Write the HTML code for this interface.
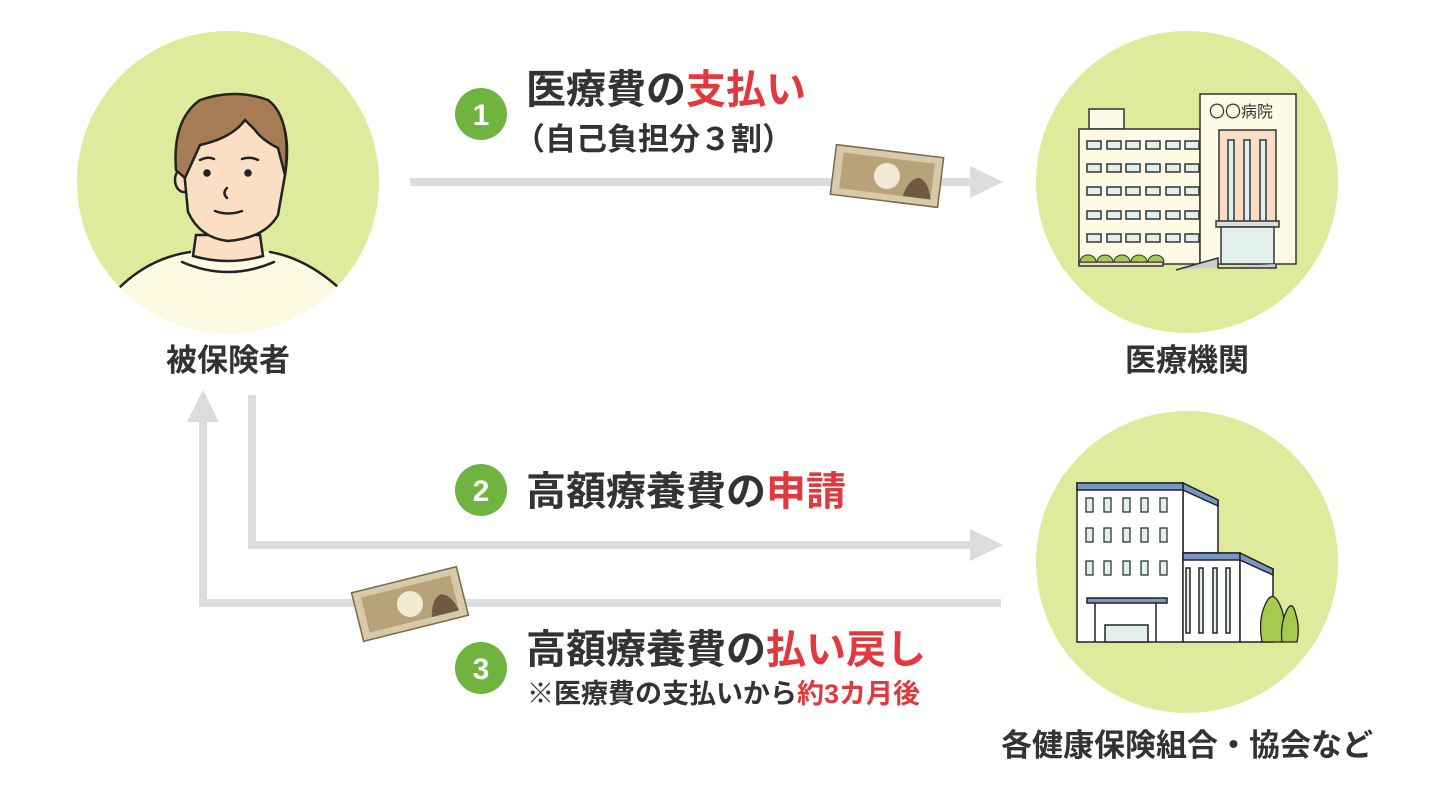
<!DOCTYPE html>
<html><head><meta charset="utf-8"><style>
html,body{margin:0;padding:0;background:#fff;}
svg{display:block;}
text{font-family:"Liberation Sans","Noto Sans CJK JP",sans-serif;font-weight:bold;}
</style></head><body>
<svg width="1456" height="800" viewBox="0 0 1456 800" xmlns="http://www.w3.org/2000/svg">
<circle cx="228" cy="182" r="151" fill="#dfeb9c"/>
<circle cx="1187" cy="182" r="151" fill="#dfeb9c"/>
<circle cx="1187" cy="562" r="151" fill="#dfeb9c"/>

<!-- person -->
<clipPath id="pc"><circle cx="228" cy="182" r="151"/></clipPath>
<g clip-path="url(#pc)" stroke="#222" stroke-width="2.5" stroke-linecap="round" fill="none">
  <path d="M120 287 Q150 258 195 250 L260 250 Q305 258 338 287 L338 340 L120 340Z" fill="#fcfae2" stroke="none"/>
  <path d="M120 287 Q150 258 190 252 M270 252 Q305 258 338 287"/>
  <path d="M196 235 L193 256 Q228 266 263 256 L260 235Z" fill="#fadfc5"/>
  <path d="M182 262 Q228 282 274 262"/>
  <ellipse cx="184" cy="180" rx="9" ry="12" fill="#fadfc5"/>
  <ellipse cx="275" cy="180" rx="9" ry="12" fill="#fadfc5"/>
  <path d="M183 160 Q180 125 205 100 Q245 85 275 110 Q292 130 285 175 L278 215 Q265 238 228 241 Q200 238 188 212 Z" fill="#fadfc5"/>
  <path d="M176 170 Q172 120 200 100 Q235 88 268 100 Q292 118 285 175 L278 148 Q262 140 255 130 L245 120 Q232 138 200 145 L185 178 Z" fill="#a67c55"/>
  <circle cx="207" cy="173" r="2.5" fill="#222"/>
  <circle cx="248" cy="173" r="2.5" fill="#222"/>
  <path d="M200 160 Q208 156 214 159 M242 159 Q250 156 258 160"/>
  <path d="M227 188 Q222 193 227 198"/>
  <path d="M215 211 Q228 216 242 211"/>
</g>

<!-- hospital -->
<g stroke="#333" stroke-width="1.5">
  <rect x="1089" y="109" width="35" height="20" fill="#fdfbe6"/>
  <rect x="1079" y="129" width="121" height="135" fill="#fdfbe6"/>
  <rect x="1200" y="94" width="96" height="170" fill="#fdfbe6"/>
  <rect x="1219" y="130" width="57" height="95" fill="#f8dcc5"/>
  <rect x="1228" y="140" width="6" height="85" fill="#e1f0ec"/>
  <rect x="1244" y="140" width="6" height="85" fill="#e1f0ec"/>
  <rect x="1260" y="140" width="6" height="85" fill="#e1f0ec"/>
  <rect x="1216" y="221" width="63" height="6" fill="#ddd"/>
  <rect x="1221" y="227" width="53" height="37" fill="#e1f0ec"/>
  <path d="M1176 270 L1218 258 L1218 268 L1276 268 L1276 264" fill="#ccc"/>
  <rect x="1079" y="262" width="84" height="4" fill="#f4d9b8"/>
</g>
<g fill="#e1f0ec" stroke="#333" stroke-width="1.5">
  <rect x="1087" y="141" width="14" height="8"/><rect x="1107" y="141" width="14" height="8"/><rect x="1126" y="141" width="14" height="8"/><rect x="1146" y="141" width="14" height="8"/><rect x="1166" y="141" width="14" height="8"/><rect x="1185" y="141" width="14" height="8"/>
  <rect x="1087" y="164" width="14" height="8"/><rect x="1107" y="164" width="14" height="8"/><rect x="1126" y="164" width="14" height="8"/><rect x="1146" y="164" width="14" height="8"/><rect x="1166" y="164" width="14" height="8"/><rect x="1185" y="164" width="14" height="8"/>
  <rect x="1087" y="187" width="14" height="8"/><rect x="1107" y="187" width="14" height="8"/><rect x="1126" y="187" width="14" height="8"/><rect x="1146" y="187" width="14" height="8"/><rect x="1166" y="187" width="14" height="8"/><rect x="1185" y="187" width="14" height="8"/>
  <rect x="1087" y="211" width="14" height="8"/><rect x="1107" y="211" width="14" height="8"/><rect x="1126" y="211" width="14" height="8"/><rect x="1146" y="211" width="14" height="8"/><rect x="1166" y="211" width="14" height="8"/><rect x="1185" y="211" width="14" height="8"/>
  <rect x="1087" y="234" width="14" height="8"/><rect x="1107" y="234" width="14" height="8"/><rect x="1126" y="234" width="14" height="8"/><rect x="1146" y="234" width="14" height="8"/><rect x="1166" y="234" width="14" height="8"/><rect x="1185" y="234" width="14" height="8"/>
</g>
<g fill="#a6c94e" stroke="#333" stroke-width="1"><path d="M1080 262 a8 7 0 0 1 16 0Z"/><path d="M1097 262 a8 7 0 0 1 16 0Z"/><path d="M1114 262 a8 7 0 0 1 16 0Z"/><path d="M1131 262 a8 7 0 0 1 16 0Z"/><path d="M1148 262 a8 7 0 0 1 16 0Z"/></g>
<text x="1209" y="117" font-size="16" fill="#333" style="font-weight:normal">〇〇病院</text>

<!-- office -->
<g stroke="#222" stroke-width="1.5">
  <path d="M1183 483 L1218 500 L1218 553 L1183 553Z" fill="#fff"/>
  <rect x="1077" y="483" width="106" height="159" fill="#fff"/>
  <path d="M1183 483 L1218 500 L1218 506 L1183 490Z" fill="#7897c4"/>
  <rect x="1077" y="483" width="106" height="7" fill="#7897c4"/>
  <rect x="1183" y="553" width="57" height="89" fill="#fff"/>
  <path d="M1240 553 L1273 569 L1273 642 L1240 642Z" fill="#fff"/>
  <rect x="1183" y="553" width="57" height="7" fill="#7897c4"/>
  <path d="M1240 553 L1273 569 L1273 575 L1240 560Z" fill="#7897c4"/>
  <rect x="1087" y="598" width="80" height="5" fill="#7897c4"/>
  <path d="M1095 603 V642 M1156 603 V642" fill="none"/>
  <rect x="1105" y="625" width="43" height="17" fill="#e1f0ec"/>
  <g fill="#e1f0ec"><rect x="1186" y="568" width="4" height="65"/><rect x="1199" y="568" width="4" height="65"/><rect x="1213" y="568" width="4" height="65"/><rect x="1226" y="568" width="4" height="65"/></g>
</g>
<g fill="#e1f0ec" stroke="#333" stroke-width="1.3">
  <rect x="1086" y="498" width="7" height="14"/><rect x="1104" y="498" width="7" height="14"/><rect x="1123" y="498" width="7" height="14"/><rect x="1141" y="498" width="7" height="14"/><rect x="1160" y="498" width="7" height="14"/>
  <rect x="1086" y="528" width="7" height="14"/><rect x="1104" y="528" width="7" height="14"/><rect x="1123" y="528" width="7" height="14"/><rect x="1141" y="528" width="7" height="14"/><rect x="1160" y="528" width="7" height="14"/>
  <rect x="1086" y="561" width="7" height="14"/><rect x="1104" y="561" width="7" height="14"/><rect x="1123" y="561" width="7" height="14"/><rect x="1141" y="561" width="7" height="14"/><rect x="1160" y="561" width="7" height="14"/>
</g>
<g fill="#a6c94e" stroke="#222" stroke-width="1.3">
  <path d="M1262 642 Q1258 620 1265 605 Q1272 588 1280 605 Q1287 620 1283 642Z"/>
  <path d="M1282 642 Q1280 625 1286 612 Q1292 598 1296 615 Q1300 628 1297 642Z"/>
</g>

<!-- connectors -->
<g stroke="#dcdcdc" stroke-width="8" fill="none">
  <path d="M410 182 H978"/>
  <path d="M252 395 V545 H978"/>
  <path d="M1001 603 H203 V415"/>
</g>
<g fill="#dcdcdc">
  <path d="M970 166 L1003 182 L970 198Z"/>
  <path d="M970 529 L1003 545 L970 561Z"/>
  <path d="M187 422 L203 390 L219 422Z"/>
</g>

<!-- bills -->
<g transform="translate(887,176) rotate(7)">
  <rect x="-54" y="-25" width="108" height="50" fill="#d7c9a9" stroke="#7a6a4a" stroke-width="1.5"/>
  <rect x="-46" y="-18" width="92" height="36" fill="#b8a27a"/>
  <circle cx="0" cy="0" r="13" fill="#f3ead3"/>
  <path d="M18 18 Q22 0 32 -2 Q42 0 46 18Z" fill="#6e5a3e"/>
</g>
<g transform="translate(410,604) rotate(-14)">
  <rect x="-54" y="-25" width="108" height="50" fill="#d7c9a9" stroke="#7a6a4a" stroke-width="1.5"/>
  <rect x="-46" y="-18" width="92" height="36" fill="#b8a27a"/>
  <circle cx="0" cy="0" r="13" fill="#f3ead3"/>
  <path d="M18 18 Q22 0 32 -2 Q42 0 46 18Z" fill="#6e5a3e"/>
</g>

<!-- badges -->
<g fill="#6eb43f"><circle cx="481" cy="114" r="26"/><circle cx="481" cy="490" r="26"/><circle cx="481" cy="668" r="26"/></g>
<g fill="#fff" font-size="30" text-anchor="middle"><text x="481" y="125">1</text><text x="481" y="501">2</text><text x="481" y="679">3</text></g>

<!-- labels -->
<text x="526" y="103" font-size="40" fill="#333">医療費の<tspan fill="#e03a3e">支払い</tspan></text>
<text x="514" y="150" font-size="31" fill="#333">（自己負担分３割）</text>
<text x="526" y="505" font-size="40" fill="#333">高額療養費の<tspan fill="#e03a3e">申請</tspan></text>
<text x="526" y="663" font-size="40" fill="#333">高額療養費の<tspan fill="#e03a3e">払い戻し</tspan></text>
<text x="527" y="703" font-size="27" fill="#333">※医療費の支払いから<tspan fill="#e03a3e">約3カ月後</tspan></text>
<g font-size="31" fill="#333" text-anchor="middle">
  <text x="228" y="371">被保険者</text>
  <text x="1187" y="371">医療機関</text>
  <text x="1187" y="756">各健康保険組合・協会など</text>
</g>
</svg>
</body></html>
